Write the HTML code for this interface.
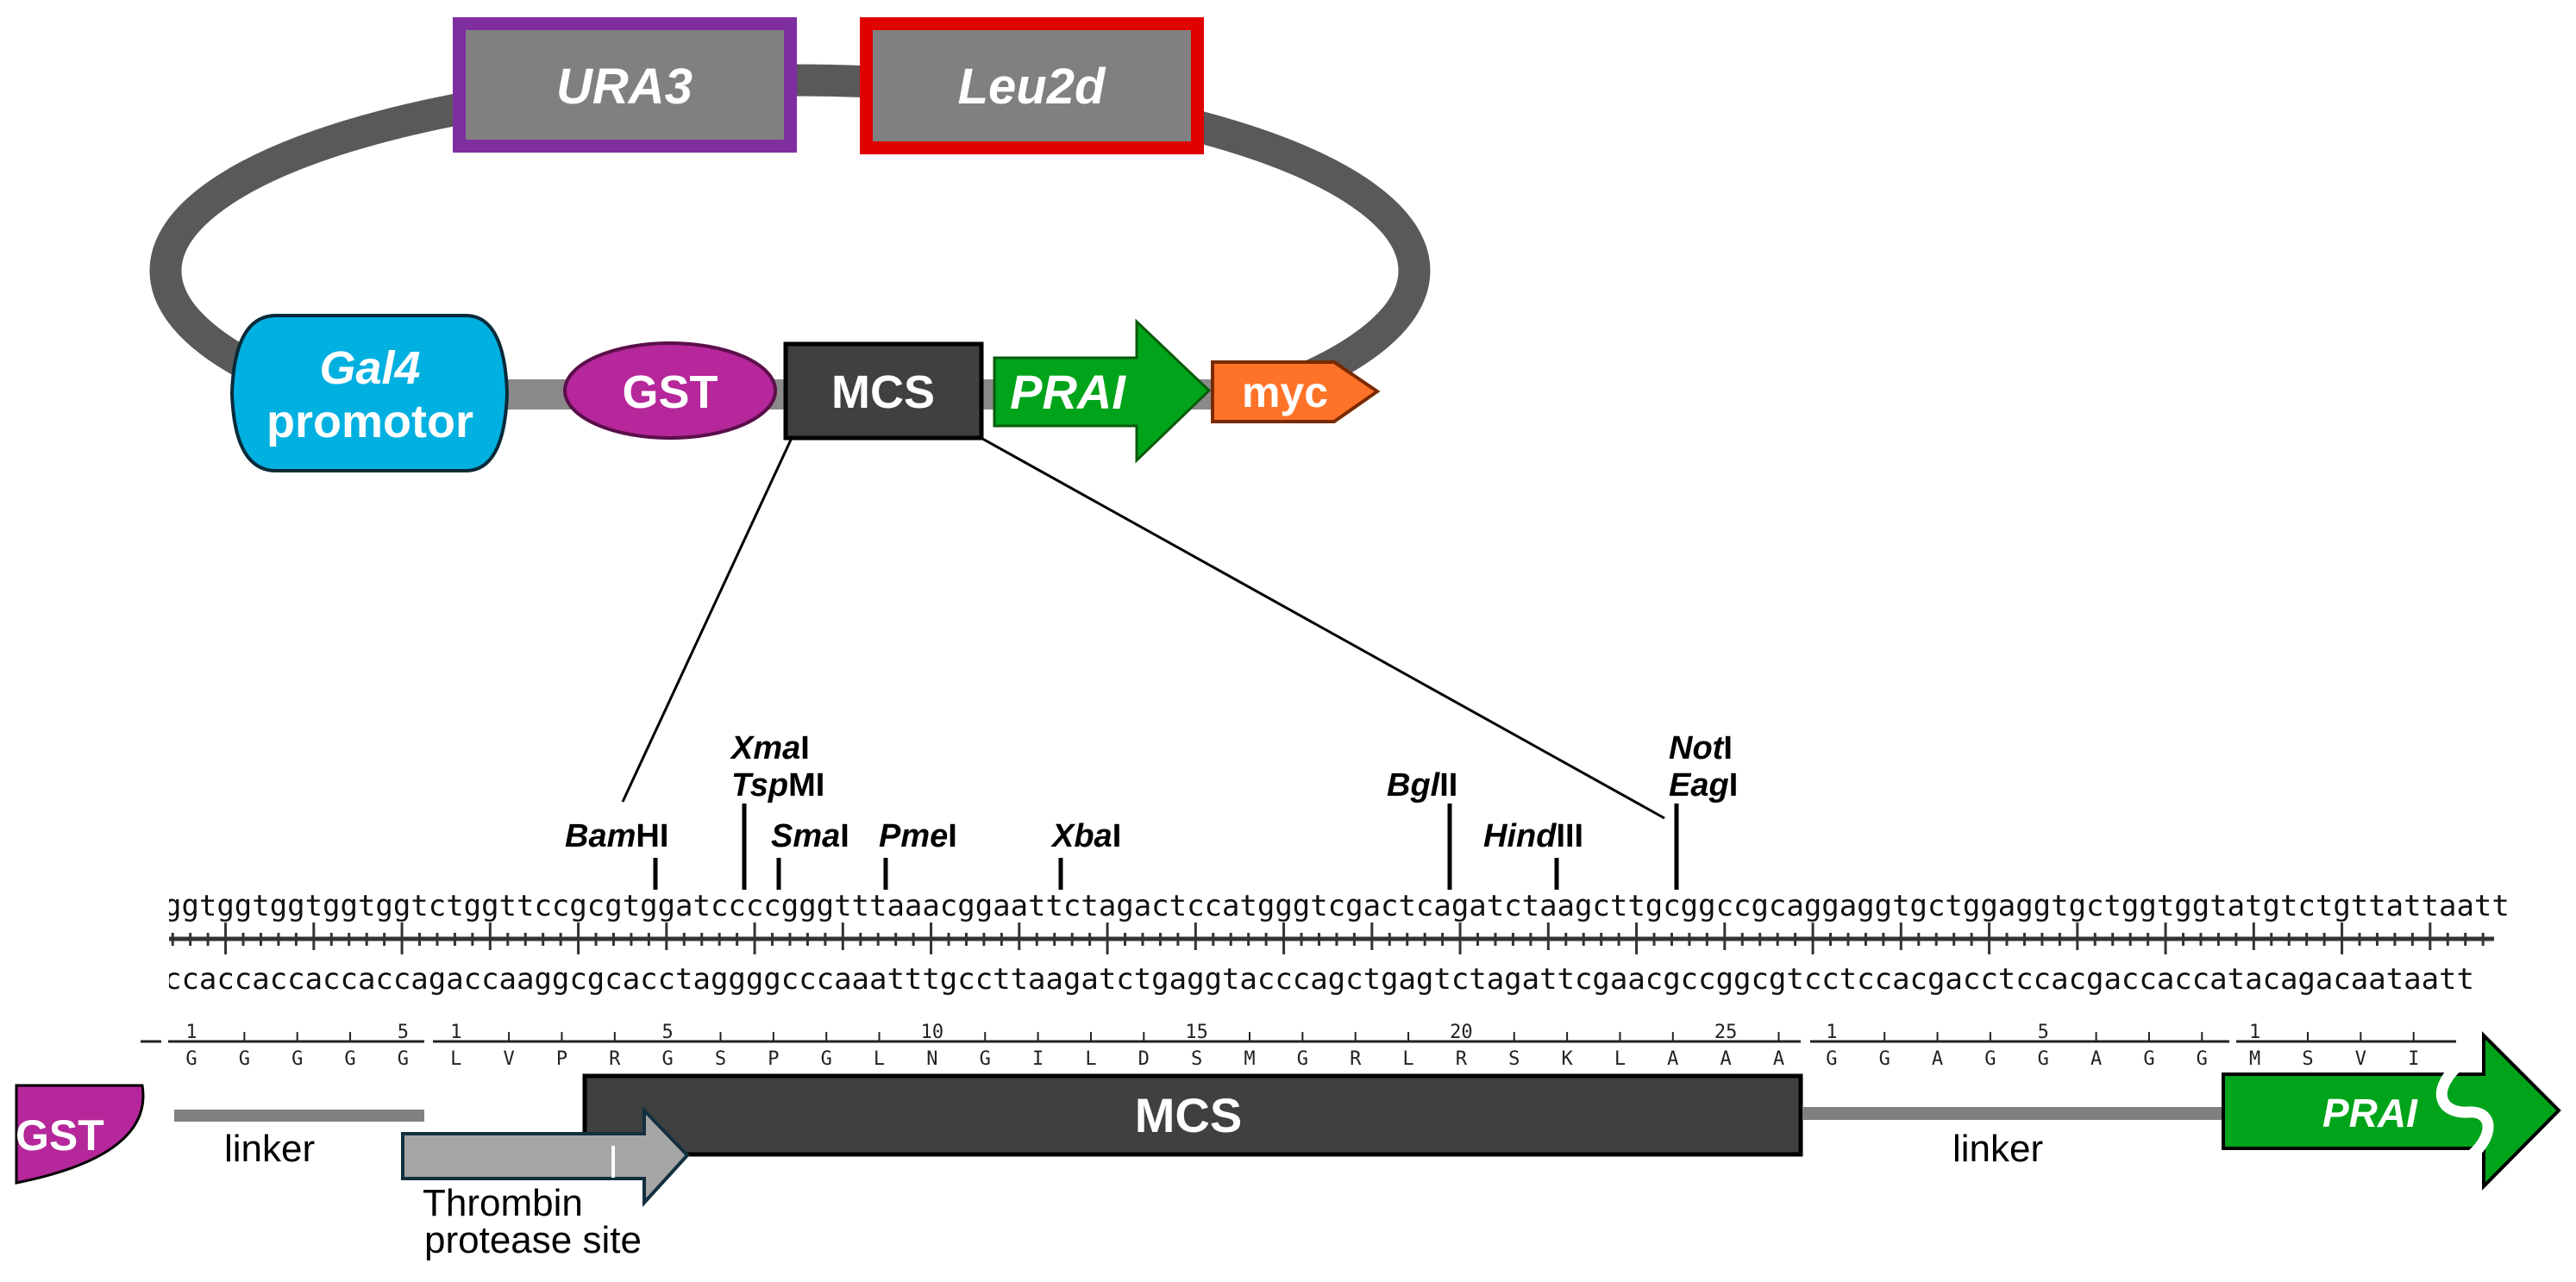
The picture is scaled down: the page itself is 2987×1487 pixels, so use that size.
<!DOCTYPE html>
<html><head><meta charset="utf-8"><style>
html,body{margin:0;padding:0;background:#fff;}
svg{display:block;}
.b{font-family:"Liberation Sans",sans-serif;font-weight:bold;fill:#fff;}
.re{font-family:"Liberation Sans",sans-serif;font-weight:bold;font-size:38px;fill:#000;}
.mono{font-family:"DejaVu Sans Mono",monospace;font-size:34px;fill:#111;}
.aa{font-family:"DejaVu Sans Mono",monospace;font-size:22px;fill:#222;}
.lab{font-family:"Liberation Sans",sans-serif;font-size:44px;fill:#000;}
</style></head><body>
<svg width="2987" height="1487" viewBox="0 0 2987 1487" xmlns="http://www.w3.org/2000/svg">
<defs>
<clipPath id="top"><rect x="0" y="0" width="2987" height="457"/></clipPath>
<clipPath id="dna"><rect x="196" y="1000" width="2720" height="170"/></clipPath>
</defs>
<!-- ring -->
<ellipse cx="916" cy="314" rx="724" ry="221" fill="none" stroke="#595959" stroke-width="37" clip-path="url(#top)"/>
<rect x="580" y="440" width="830" height="35" fill="#8a8a8a"/>
<!-- URA3 / Leu2d -->
<rect x="532.5" y="27.5" width="384" height="142" fill="#808080" stroke="#7f2ea0" stroke-width="15"/>
<text x="724" y="120" class="b" font-size="58" font-style="italic" text-anchor="middle">URA3</text>
<rect x="1004.5" y="27.5" width="384" height="144" fill="#808080" stroke="#e00000" stroke-width="15"/>
<text x="1196" y="120" class="b" font-size="58" font-style="italic" text-anchor="middle">Leu2d</text>
<!-- Gal4 -->
<path d="M320,366 L540,366 Q585,366 588,456 Q585,546 540,546 L320,546 Q272,546 269,456 Q272,366 320,366 Z" fill="#00b0e0" stroke="#0a2a3a" stroke-width="4"/>
<text x="429" y="445" class="b" font-size="54" font-style="italic" text-anchor="middle">Gal4</text>
<text x="429" y="507" class="b" font-size="54" text-anchor="middle">promotor</text>
<!-- GST -->
<ellipse cx="777" cy="453" rx="122" ry="55" fill="#b5279a" stroke="#5a0f4a" stroke-width="4"/>
<text x="777" y="473" class="b" font-size="54" text-anchor="middle">GST</text>
<!-- MCS -->
<rect x="911" y="399" width="227" height="109" fill="#404040" stroke="#000" stroke-width="5"/>
<text x="1024" y="473" class="b" font-size="54" text-anchor="middle">MCS</text>
<!-- PRAI -->
<path d="M1153,415 L1318,415 L1318,373 L1402,453 L1318,534 L1318,494 L1153,494 Z" fill="#00a41a" stroke="#0a5a0a" stroke-width="3"/>
<text x="1238" y="474" class="b" font-size="56" font-style="italic" text-anchor="middle">PRAI</text>
<!-- myc -->
<path d="M1406,420 L1547,420 L1597,454 L1547,489 L1406,489 Z" fill="#ff7328" stroke="#7a2a00" stroke-width="4"/>
<text x="1490" y="472" class="b" font-size="50" text-anchor="middle">myc</text>
<!-- zoom lines -->
<line x1="918" y1="508" x2="722" y2="930" stroke="#000" stroke-width="3"/>
<line x1="1134" y1="506" x2="1930" y2="949" stroke="#000" stroke-width="3"/>
<!-- restriction labels -->
<text x="655" y="982" class="re"><tspan font-style="italic">Bam</tspan>HI</text>
<text x="848" y="880" class="re"><tspan font-style="italic">Xma</tspan>I</text>
<text x="848" y="923" class="re"><tspan font-style="italic">Tsp</tspan>MI</text>
<text x="894" y="982" class="re"><tspan font-style="italic">Sma</tspan>I</text>
<text x="1019" y="982" class="re"><tspan font-style="italic">Pme</tspan>I</text>
<text x="1220" y="982" class="re"><tspan font-style="italic">Xba</tspan>I</text>
<text x="1608" y="923" class="re"><tspan font-style="italic">Bgl</tspan>II</text>
<text x="1720" y="982" class="re"><tspan font-style="italic">Hind</tspan>III</text>
<text x="1935" y="880" class="re"><tspan font-style="italic">Not</tspan>I</text>
<text x="1935" y="923" class="re"><tspan font-style="italic">Eag</tspan>I</text>
<g stroke="#000" stroke-width="5">
<line x1="760" y1="995" x2="760" y2="1032"/>
<line x1="863" y1="932" x2="863" y2="1032"/>
<line x1="903" y1="995" x2="903" y2="1032"/>
<line x1="1027" y1="995" x2="1027" y2="1032"/>
<line x1="1230" y1="995" x2="1230" y2="1032"/>
<line x1="1681" y1="932" x2="1681" y2="1032"/>
<line x1="1805" y1="995" x2="1805" y2="1032"/>
<line x1="1944" y1="932" x2="1944" y2="1032"/>
</g>
<!-- DNA -->
<g clip-path="url(#dna)">
<text x="190" y="1062" class="mono" textLength="2719.85" lengthAdjust="spacing">ggtggtggtggtggtctggttccgcgtggatccccgggtttaaacggaattctagactccatgggtcgactcagatctaagcttgcggccgcaggaggtgctggaggtgctggtggtatgtctgttattaatt</text>
<text x="190" y="1147" class="mono" textLength="2678.95" lengthAdjust="spacing">ccaccaccaccaccagaccaaggcgcacctaggggcccaaatttgccttaagatctgaggtacccagctgagtctagattcgaacgccggcgtcctccacgacctccacgaccaccatacagacaataatt</text>
</g>
<line x1="196" y1="1089" x2="2892" y2="1089" stroke="#333" stroke-width="5"/>
<g id="ticks" stroke="#333" stroke-width="3"></g>
<!-- aa rows -->
<g stroke="#222" stroke-width="3">
<line x1="163" y1="1208" x2="187" y2="1208"/>
<line x1="195" y1="1208" x2="492" y2="1208"/>
<line x1="502" y1="1208" x2="2088" y2="1208"/>
<line x1="2099" y1="1208" x2="2585" y2="1208"/>
<line x1="2593" y1="1208" x2="2848" y2="1208"/>
</g>
<g id="aa"></g>
<!-- bottom -->
<path d="M19,1259 L165,1259 Q178,1340 19,1372 Z" fill="#b5279a" stroke="#000" stroke-width="3"/>
<text x="18" y="1334" class="b" font-size="50">GST</text>
<rect x="202" y="1287" width="290" height="14" fill="#808080"/>
<text x="260" y="1347" class="lab" font-size="46">linker</text>
<rect x="678" y="1248" width="1410" height="91" fill="#404040" stroke="#000" stroke-width="5"/>
<text x="1378" y="1313" class="b" font-size="56" text-anchor="middle">MCS</text>
<path d="M467,1315 L747,1315 L747,1288 L797,1340 L747,1395 L747,1367 L467,1367 Z" fill="#a6a6a6" stroke="#12303f" stroke-width="4"/>
<line x1="711" y1="1329" x2="711" y2="1366" stroke="#fff" stroke-width="4"/>
<text x="490" y="1410" class="lab" font-size="42">Thrombin</text>
<text x="492" y="1453" class="lab" font-size="42">protease site</text>
<rect x="2090" y="1284" width="503" height="15" fill="#808080"/>
<text x="2264" y="1347" class="lab" font-size="46">linker</text>
<path d="M2578,1246 L2880,1246 L2880,1201 L2967,1288 L2880,1376 L2880,1332 L2578,1332 Z" fill="#00a41a" stroke="#000" stroke-width="4"/>
<path d="M2848,1238 C2818,1268 2832,1292 2862,1290 C2892,1288 2892,1318 2866,1340" fill="none" stroke="#fff" stroke-width="13"/>
<text x="2693" y="1307" class="b" font-size="46" font-style="italic">PRAI</text>
</svg>
<script>
(function(){
var ns="http://www.w3.org/2000/svg";
var t=document.getElementById("ticks");
for(var i=0;i<133;i++){
 var x=190+(i+0.5)*20.45; if(x>2892)break;
 var y1=1082,y2=1097,k=(i-3)%10;
 if(i>=3&&k===0){y1=1070;y2=1107;}
 else if(i>=3&&k===5){y1=1070;y2=1102;}
 var l=document.createElementNS(ns,"line");
 l.setAttribute("x1",x);l.setAttribute("x2",x);l.setAttribute("y1",y1);l.setAttribute("y2",y2);
 t.appendChild(l);
}
var a=document.getElementById("aa");
var seq="GGGGGLVPRGSPGLNGILDSMGRLRSKLAAAGGAGGAGGMSVI";
var segs=[[0,5],[5,26],[31,8],[39,4]];
for(var s=0;s<segs.length;s++){
 for(var j=0;j<segs[s][1];j++){
  var idx=segs[s][0]+j, x=222+idx*61.35, n=j+1;
  var tx=document.createElementNS(ns,"text");
  tx.setAttribute("x",x);tx.setAttribute("y",1235);tx.setAttribute("class","aa");tx.setAttribute("text-anchor","middle");
  tx.textContent=seq[idx];a.appendChild(tx);
  if(n===1||n%5===0){
   var nu=document.createElementNS(ns,"text");
   nu.setAttribute("x",x);nu.setAttribute("y",1204);nu.setAttribute("class","aa");nu.setAttribute("text-anchor","middle");
   nu.textContent=n;a.appendChild(nu);
  } else {
   var l=document.createElementNS(ns,"line");
   l.setAttribute("x1",x);l.setAttribute("x2",x);l.setAttribute("y1",1197);l.setAttribute("y2",1208);
   l.setAttribute("stroke","#222");l.setAttribute("stroke-width","2");a.appendChild(l);
  }
 }
}
})();
</script>
</body></html>
